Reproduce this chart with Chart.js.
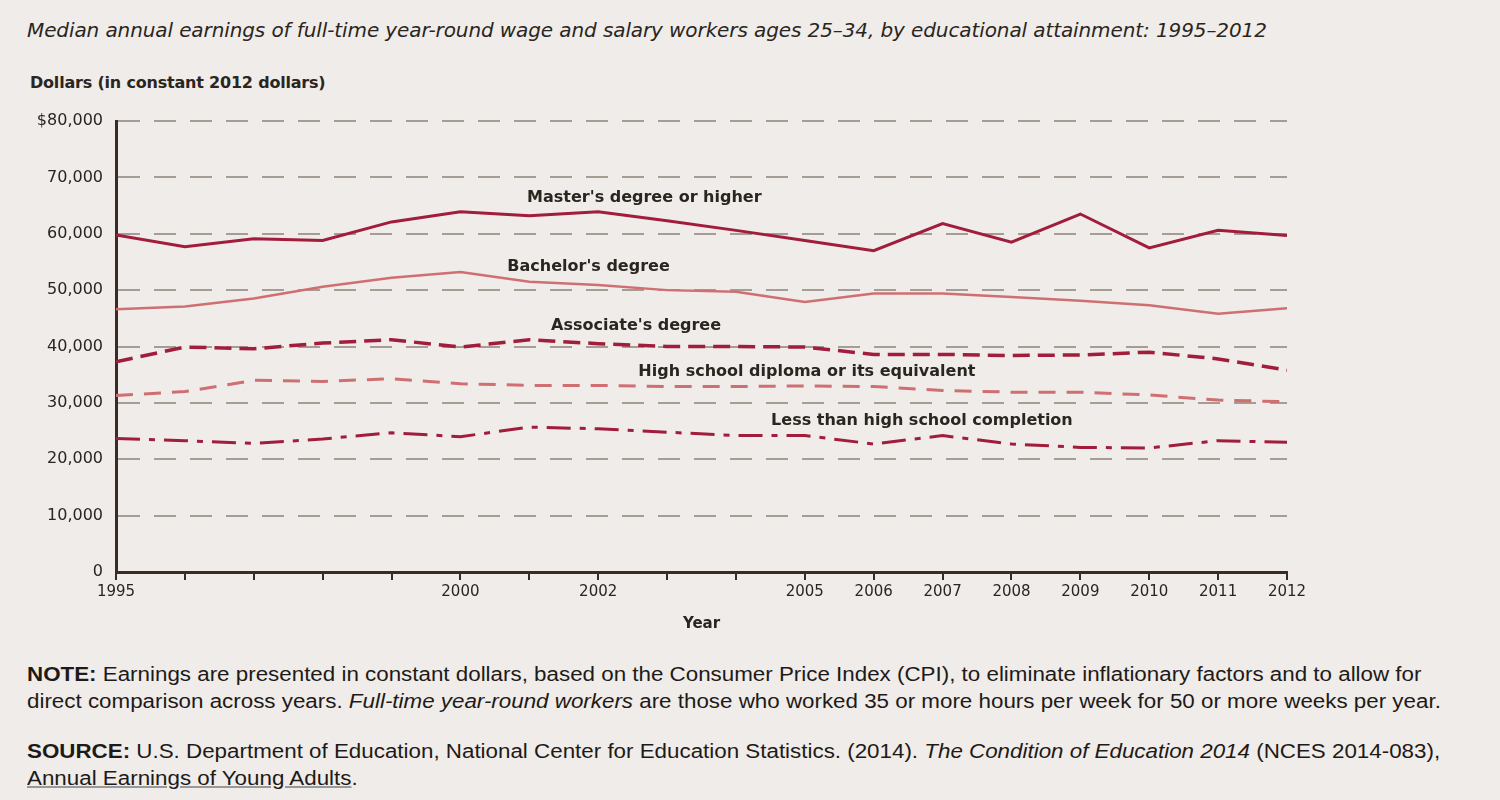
<!DOCTYPE html>
<html>
<head>
<meta charset="utf-8">
<script src="https://cdn.jsdelivr.net/npm/chart.js@4/dist/chart.umd.min.js"></script>
<style>
  html, body { margin: 0; padding: 0; background: #efecea; }
  #page { position: relative; width: 1500px; height: 800px; overflow: hidden; background: #efecea; color: #2b2520; }
  .title { position: absolute; left: 27px; top: 18px; font: italic 20px "DejaVu Sans", sans-serif; white-space: nowrap; letter-spacing: -0.1px; }
  .ycap { position: absolute; left: 30px; top: 73px; font: bold 16px "DejaVu Sans", sans-serif; white-space: nowrap; letter-spacing: -0.2px; }
  .note { position: absolute; left: 27px; font: 20px "Liberation Sans", Arial, sans-serif; line-height: 27px; white-space: nowrap; color: #1e1a17; transform: scaleX(1.118); transform-origin: left top; }
  .note b { font-weight: bold; }
  .note u { text-decoration-color: #999; }
  #wrap { position: absolute; left: 0; top: 90px; width: 1500px; height: 560px; }
</style>
</head>
<body>
<div id="page">
  <div class="title">Median annual earnings of full-time year-round wage and salary workers ages 25–34, by educational attainment: 1995–2012</div>
  <div class="ycap">Dollars (in constant 2012 dollars)</div>
  <div id="wrap"><canvas id="earningsChart"></canvas></div>
  <div class="note" style="top:661px;"><b>NOTE:</b> Earnings are presented in constant dollars, based on the Consumer Price Index (CPI), to eliminate inflationary factors and to allow for<br>direct comparison across years. <i>Full-time year-round workers</i> are those who worked 35 or more hours per week for 50 or more weeks per year.</div>
  <div class="note" style="top:738px;"><b>SOURCE:</b> U.S. Department of Education, National Center for Education Statistics. (2014). <i>The Condition of Education 2014</i> (NCES 2014-083),<br><u>Annual Earnings of Young Adults</u>.</div>
</div>
<script>
// values (constant 2012 dollars)
const years = [1995, 1996, 1997, 1998, 1999, 2000, 2001, 2002, 2003, 2004, 2005, 2006, 2007, 2008, 2009, 2010, 2011, 2012];
const labeledYears = [1995, 2000, 2002, 2005, 2006, 2007, 2008, 2009, 2010, 2011, 2012];

const masters    = [59800, 57700, 59100, 58800, 62100, 63900, 63200, 63900, 62300, 60600, 58800, 57000, 61800, 58500, 63500, 57500, 60600, 59700];
const bachelors  = [46600, 47100, 48500, 50600, 52200, 53200, 51500, 50900, 50000, 49700, 47900, 49400, 49400, 48800, 48100, 47300, 45800, 46800];
const associates = [37300, 39900, 39600, 40600, 41200, 39900, 41200, 40500, 40000, 40000, 39900, 38600, 38600, 38400, 38500, 39000, 37800, 35800];
const highSchool = [31300, 32000, 34000, 33800, 34300, 33400, 33100, 33100, 32900, 32900, 33000, 32900, 32200, 31900, 31900, 31400, 30500, 30200];
const lessThanHS = [23700, 23300, 22800, 23600, 24700, 24000, 25700, 25400, 24800, 24200, 24200, 22700, 24200, 22700, 22100, 22000, 23300, 23000];

const seriesNames = ["Master's degree or higher", "Bachelor's degree", "Associate's degree", "High school diploma or its equivalent", "Less than high school completion"];
const yTickLabels = ['0', '10,000', '20,000', '30,000', '40,000', '50,000', '60,000', '70,000', '$80,000'];

const DARK = '#a11d3b';
const LIGHT = '#cf6f72';
const INK = '#2b2520';

const toPoints = vals => vals.map((v, i) => ({ x: years[i], y: v }));

// where the series names sit (year, dollars)
const nameSpots = [
    [2002.67, 66300],
    [2001.86, 54100],
    [2002.55, 43600],
    [2005.03, 35500],
    [2006.70, 26800]
];

const seriesNamesPlugin = {
    id: 'seriesNames',
    afterDatasetsDraw(chart) {
        const { ctx, scales: { x, y }, chartArea } = chart;
        ctx.save();
        ctx.fillStyle = INK;
        ctx.font = 'bold 16px "DejaVu Sans", sans-serif';
        ctx.textAlign = 'center';
        ctx.textBaseline = 'middle';
        nameSpots.forEach((spot, i) => {
            ctx.fillText(seriesNames[i], x.getPixelForValue(spot[0]), y.getPixelForValue(spot[1]));
        });
        ctx.font = 'bold 15px "DejaVu Sans", sans-serif';
        ctx.fillText('Year', (chartArea.left + chartArea.right) / 2, chartArea.bottom + 52);
        ctx.restore();
    }
};

const ctx = document.getElementById('earningsChart').getContext('2d');
new Chart(ctx, {
    type: 'line',
    data: {
        datasets: [
            { label: seriesNames[0], data: toPoints(masters), borderColor: DARK, borderWidth: 3 },
            { label: seriesNames[1], data: toPoints(bachelors), borderColor: LIGHT, borderWidth: 2.5 },
            { label: seriesNames[2], data: toPoints(associates), borderColor: DARK, borderWidth: 3.5, borderDash: [17, 8] },
            { label: seriesNames[3], data: toPoints(highSchool), borderColor: LIGHT, borderWidth: 3, borderDash: [17, 11] },
            { label: seriesNames[4], data: toPoints(lessThanHS), borderColor: DARK, borderWidth: 3, borderDash: [24, 9, 6, 9] }
        ]
    },
    options: {
        responsive: true,
        maintainAspectRatio: false,
        animation: false,
        elements: { point: { radius: 0 }, line: { tension: 0, fill: false, borderCapStyle: 'butt' } },
        layout: { padding: { top: 31, right: 213, left: 0, bottom: 0 } },
        plugins: { legend: { display: false }, tooltip: { enabled: false } },
        scales: {
            x: {
                type: 'linear',
                min: 1995,
                max: 2012,
                afterBuildTicks: scale => { scale.ticks = years.map(v => ({ value: v })); },
                afterFit: scale => { scale.height = 78; },
                grid: { drawOnChartArea: false, drawTicks: true, tickLength: 8, color: '#3a2c22', lineWidth: 2 },
                border: { display: true, color: '#3a2c22', width: 3 },
                ticks: {
                    padding: 3,
                    maxRotation: 0,
                    autoSkip: false,
                    color: INK,
                    font: { family: '"DejaVu Sans", sans-serif', size: 15 },
                    callback: v => labeledYears.includes(v) ? String(v) : ''
                }
            },
            y: {
                min: 0,
                max: 80000,
                afterBuildTicks: scale => { scale.ticks = yTickLabels.map((t, i) => ({ value: i * 10000 })); },
                afterFit: scale => { scale.width = 116; },
                grid: { drawTicks: false, color: '#a59d93', lineWidth: 2 },
                border: { display: true, color: '#3a2c22', width: 3, dash: [22, 14] },
                ticks: {
                    padding: 13,
                    color: INK,
                    font: { family: '"DejaVu Sans", sans-serif', size: 16 },
                    callback: v => yTickLabels[Math.round(v / 10000)]
                }
            }
        }
    },
    plugins: [seriesNamesPlugin]
});
</script>
</body>
</html>
